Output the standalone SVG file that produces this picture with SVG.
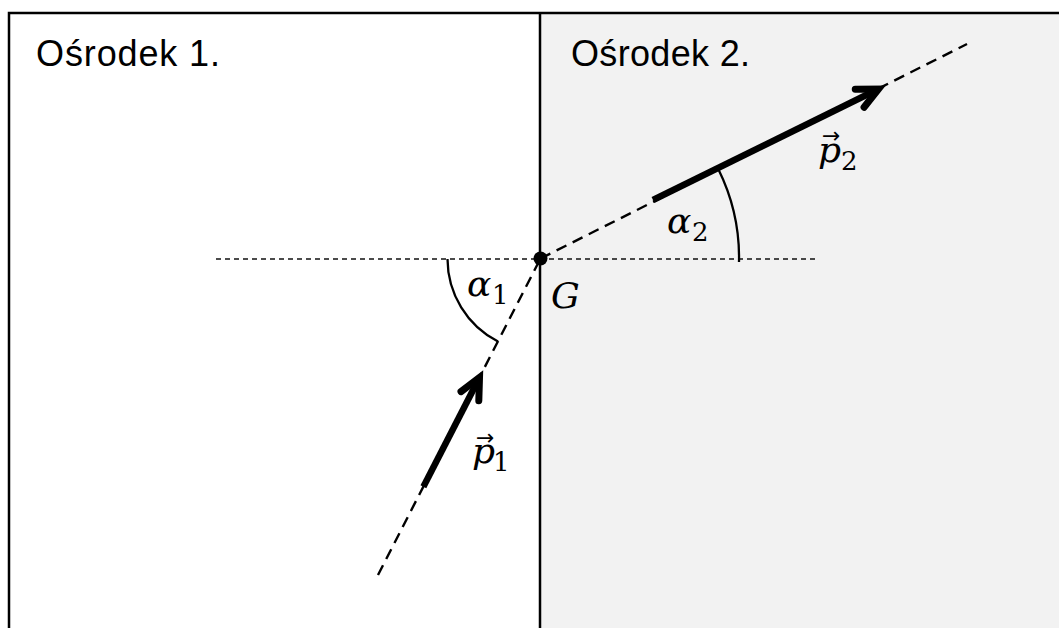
<svg xmlns="http://www.w3.org/2000/svg" width="1059" height="628" viewBox="0 0 1059 628">
<style>
.frame{stroke:#000;stroke-width:2.5;fill:none}
.hdash{stroke:#111;stroke-width:1.5;stroke-dasharray:5 4;fill:none}
.ray{stroke:#000;stroke-width:2.4;stroke-dasharray:11 7;fill:none}
.vec{stroke:#000;stroke-width:6.5;fill:none;marker-end:url(#head)}
.arc{stroke:#000;stroke-width:2.3;fill:none}
.title{font-family:"Liberation Sans",Arial,sans-serif;font-size:36px;fill:#000}
.m{font-family:"DejaVu Serif","Liberation Serif",serif;font-style:italic;font-size:36px;fill:#000}
.s{font-family:"DejaVu Serif","Liberation Serif",serif;font-style:normal;font-size:26px}
.acc{font-family:"DejaVu Sans",sans-serif;font-style:normal;font-size:22px}
</style>
<defs>
<marker id="head" markerUnits="userSpaceOnUse" viewBox="-35 -20 45 40" refX="0" refY="0" markerWidth="45" markerHeight="40" orient="auto" overflow="visible">
<path d="M-21,-10 L0,0 L-21,10" fill="none" stroke="#000" stroke-width="7" stroke-linejoin="miter" stroke-linecap="round"/>
</marker>
</defs>
<rect x="0" y="0" width="1059" height="628" fill="#fff"/>
<g id="medium2">
<rect x="540" y="13" width="519" height="615" fill="#f2f2f2"/>
<text class="title" x="571" y="66" textLength="179" lengthAdjust="spacing">Ośrodek 2.</text>
</g>
<g id="medium1">
<text class="title" x="36" y="66" textLength="184" lengthAdjust="spacing">Ośrodek 1.</text>
</g>
<g id="frame">
<path class="frame" d="M9,628 V13 H1059"/>
<path class="frame" d="M540,13 V628"/>
</g>
<g id="connectors">
<path class="hdash" d="M216,259 H815"/>
<path class="ray" d="M378,575 L540.5,258.5"/>
<path class="ray" d="M540.5,258.5 L967,44"/>
<path class="vec" d="M423.4,486.7 L479.5,377.5"/>
<path class="vec" d="M653,200 L878.5,89"/>
<path class="arc" d="M447.5,259 A93,93 0 0 0 498,341.5"/>
<path class="arc" d="M718.5,169.5 A199,199 0 0 1 739,262"/>
</g>
<g id="G">
<circle cx="540.5" cy="258.5" r="7" fill="#000"/>
<text class="m" x="551" y="308">G</text>
</g>
<g id="alpha1">
<text class="m" x="467" y="296">α<tspan class="s" x="492" y="304">1</tspan></text>
</g>
<g id="alpha2">
<text class="m" x="667" y="233">α<tspan class="s" x="692" y="241">2</tspan></text>
</g>
<g id="p1">
<text class="m" x="472" y="463">p<tspan class="acc" x="476" y="445">→</tspan><tspan class="s" x="493" y="471">1</tspan></text>
</g>
<g id="p2">
<text class="m" x="818" y="162">p<tspan class="acc" x="822" y="143">→</tspan><tspan class="s" x="841" y="170">2</tspan></text>
</g>
</svg>
